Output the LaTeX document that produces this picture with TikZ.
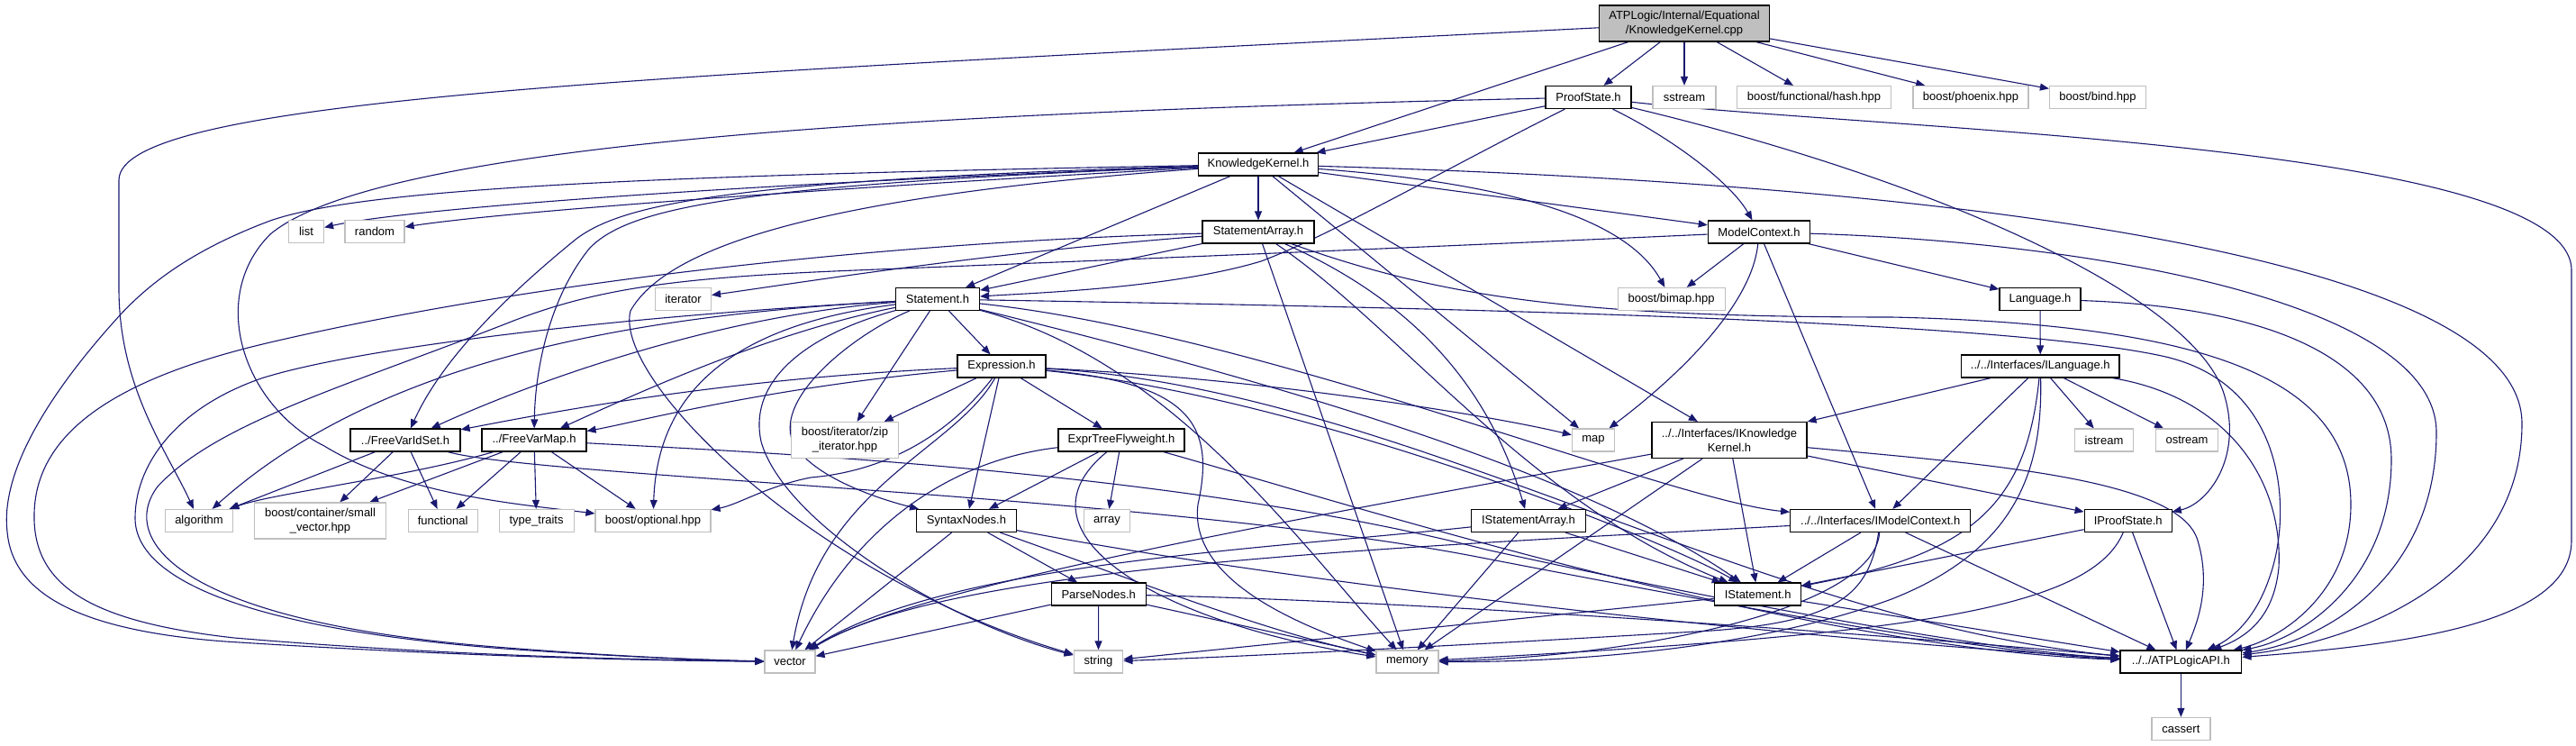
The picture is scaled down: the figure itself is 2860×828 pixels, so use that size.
\documentclass[tikz,border=0pt]{standalone}
\usepackage{fontspec}
\setmainfont{Liberation Sans}
\usetikzlibrary{arrows.meta,backgrounds}
\definecolor{edgec}{HTML}{191970}
\definecolor{extc}{HTML}{BFBFBF}
\definecolor{mainc}{HTML}{BFBFBF}
\begin{document}
\begin{tikzpicture}[x=0.5pt,y=-0.5pt,
 box/.style={rectangle, inner sep=0pt, minimum height=12.5pt, font=\fontsize{6.5}{8}\selectfont, align=center, line width=0.6pt},
 hdr/.style={box, draw=black, fill=white},
 ext/.style={box, draw=extc, fill=white},
 dbl/.style={minimum height=20pt},
 dep/.style={draw=edgec, line width=0.55pt, -{Triangle[length=5pt,width=4pt]}}]
\path[use as bounding box] (0,0) rectangle (2860,828);
% ---------- nodes ----------
\node[box, draw=black, fill=mainc, dbl, minimum width=94.5pt] (M) at (1870,26) {ATPLogic/Internal/Equational\\/KnowledgeKernel.cpp};
\node[hdr, minimum width=47.5pt] (P) at (1763.5,108) {ProofState.h};
\node[ext, minimum width=35pt] (sst) at (1870,108) {sstream};
\node[ext, minimum width=85.5pt] (hash) at (2014,108) {boost/functional/hash.hpp};
\node[ext, minimum width=64pt] (phx) at (2188,108) {boost/phoenix.hpp};
\node[ext, minimum width=53.5pt] (bind) at (2329,108) {boost/bind.hpp};
\node[hdr, minimum width=66.5pt] (KK) at (1397,182.5) {KnowledgeKernel.h};
\node[ext, minimum width=19.5pt] (list) at (340,257) {list};
\node[ext, minimum width=33pt] (rnd) at (416,257) {random};
\node[hdr, minimum width=62pt] (SA) at (1397,257.5) {StatementArray.h};
\node[hdr, minimum width=56.7pt] (MC) at (1953,257.5) {ModelContext.h};
\node[hdr, minimum width=46.5pt] (St) at (1041,332) {Statement.h};
\node[ext, minimum width=31pt] (itr) at (758.5,332) {iterator};
\node[ext, minimum width=59.5pt] (bimap) at (1855.6,332) {boost/bimap.hpp};
\node[hdr, minimum width=45pt] (Lang) at (2265,332) {Language.h};
\node[hdr, minimum width=49pt] (Ex) at (1112,406.5) {Expression.h};
\node[hdr, minimum width=87.7pt] (ILang) at (2265.3,406.5) {../../Interfaces/ILanguage.h};
\node[hdr, minimum width=61pt] (FVS) at (450,488.5) {../FreeVarIdSet.h};
\node[hdr, minimum width=58pt] (FVM) at (593,488.5) {../FreeVarMap.h};
\node[ext, dbl, minimum width=59.2pt] (zip) at (938,488.5) {boost/iterator/zip\\\_iterator.hpp};
\node[hdr, minimum width=70pt] (ETF) at (1245,488.5) {ExprTreeFlyweight.h};
\node[ext, minimum width=23.6pt] (map) at (1769,488.5) {map};
\node[hdr, dbl, minimum width=86pt] (IKK) at (1920,488.5) {../../Interfaces/IKnowledge\\Kernel.h};
\node[ext, minimum width=32.2pt] (istr) at (2336,488.5) {istream};
\node[ext, minimum width=34.4pt] (ostr) at (2428,488.5) {ostream};
\node[ext, minimum width=37.5pt] (alg) at (221,578) {algorithm};
\node[ext, dbl, minimum width=73.2pt] (svec) at (355.6,578) {boost/container/small\\\_vector.hpp};
\node[ext, minimum width=38.5pt] (func) at (491.7,578) {functional};
\node[ext, minimum width=41.5pt] (tt) at (595.6,578) {type\_traits};
\node[ext, minimum width=64pt] (opt) at (725,578) {boost/optional.hpp};
\node[hdr, minimum width=55.4pt] (SN) at (1073,578) {SyntaxNodes.h};
\node[ext, minimum width=25.2pt] (arr) at (1229,578) {array};
\node[hdr, minimum width=63.4pt] (ISA) at (1697,578) {IStatementArray.h};
\node[hdr, minimum width=100pt] (IMC) at (2087.7,578) {../../Interfaces/IModelContext.h};
\node[hdr, minimum width=48.5pt] (IPS) at (2362.7,578) {IProofState.h};
\node[hdr, minimum width=52.4pt] (PN) at (1219.7,659.5) {ParseNodes.h};
\node[hdr, minimum width=48pt] (IS) at (1951.7,659.5) {IStatement.h};
\node[ext, minimum width=28pt] (vec) at (877,734.5) {vector};
\node[ext, minimum width=27.3pt] (str) at (1219.5,734.5) {string};
\node[ext, minimum width=34.5pt] (mem) at (1562.5,734.5) {memory};
\node[hdr, minimum width=67.4pt] (API) at (2421.4,734.5) {../../ATPLogicAPI.h};
\node[ext, minimum width=32.5pt] (cas) at (2421.4,809) {cassert};
% ---------- edges ----------
\begin{pgfonlayer}{background}
\fill[white] (0,0) rectangle (2860,828);
% main file
\draw[dep] (M) -- (P);
\draw[dep] (M) -- (sst);
\draw[dep] (M) -- (hash);
\draw[dep] (M) -- (phx);
\draw[dep] (M) -- (bind);
\draw[dep] (M) -- (KK);
\draw[dep] (M) .. controls (700,85) and (132,110) .. (132,200) -- (132,320) .. controls (132,430) and (185,500) .. (alg);
% ProofState.h
\draw[dep] (P) -- (KK);
\draw[dep] (P) .. controls (1600,190) and (1480,260) .. (1400,290) .. controls (1300,320) and (1150,325) .. (St);
\draw[dep] (P) .. controls (1850,150) and (1920,200) .. (MC);
\draw[dep] (P) .. controls (2150,200) and (2440,330) .. (2470,440) .. controls (2490,510) and (2450,560) .. (IPS);
\draw[dep] (P) .. controls (2100,145) and (2855,160) .. (2855,300) -- (2855,600) .. controls (2855,690) and (2680,715) .. (API);
\draw[dep] (P) .. controls (1000,125) and (420,160) .. (300,260) .. controls (230,330) and (270,450) .. (360,495) .. controls (450,550) and (580,560) .. (opt);
% KnowledgeKernel.h
\draw[dep] (KK) .. controls (800,205) and (450,232) .. (list);
\draw[dep] (KK) .. controls (900,210) and (560,235) .. (rnd);
\draw[dep] (KK) .. controls (700,195) and (400,210) .. (300,245) .. controls (220,275) and (170,310) .. (133,350) .. controls (60,430) and (0,520) .. (8,590) .. controls (14,660) and (90,700) .. (250,712) .. controls (500,728) and (700,733) .. (vec);
\draw[dep] (KK) -- (SA);
\draw[dep] (KK) -- (St);
\draw[dep] (KK) -- (MC);
\draw[dep] (KK) .. controls (1700,205) and (1810,250) .. (bimap);
\draw[dep] (KK) -- (map);
\draw[dep] (KK) -- (IKK);
\draw[dep] (KK) .. controls (800,200) and (690,228) .. (640,265) .. controls (560,330) and (490,400) .. (FVS);
\draw[dep] (KK) .. controls (820,205) and (700,230) .. (655,275) .. controls (610,330) and (594,410) .. (FVM);
\draw[dep] (KK) .. controls (950,215) and (745,265) .. (700,345) .. controls (680,420) and (900,640) .. (str);
\draw[dep] (KK) .. controls (2200,205) and (2800,290) .. (2800,470) .. controls (2800,640) and (2620,712) .. (API);
% StatementArray.h
\draw[dep] (SA) -- (St);
\draw[dep] (SA) .. controls (1100,280) and (900,312) .. (itr);
\draw[dep] (SA) .. controls (1000,268) and (600,310) .. (300,380) .. controls (150,415) and (40,470) .. (38,570) .. controls (36,650) and (100,690) .. (260,708) .. controls (500,728) and (700,732) .. (vec);
\draw[dep] (SA) -- (mem);
\draw[dep] (SA) .. controls (1560,330) and (1650,420) .. (ISA);
\draw[dep] (SA) .. controls (1550,360) and (1700,560) .. (IS);
\draw[dep] (SA) .. controls (1600,330) and (1750,352) .. (2100,352) .. controls (2450,360) and (2610,420) .. (2610,560) .. controls (2610,660) and (2530,710) .. (API);
% ModelContext.h
\draw[dep] (MC) -- (Lang);
\draw[dep] (MC) -- (bimap);
\draw[dep] (MC) .. controls (1945,340) and (1860,420) .. (map);
\draw[dep] (MC) -- (IMC);
\draw[dep] (MC) .. controls (1500,278) and (1150,292) .. (950,300) .. controls (750,308) and (660,320) .. (560,360) .. controls (380,430) and (240,470) .. (175,540) .. controls (130,600) and (200,690) .. (550,718) .. controls (700,730) and (800,733) .. (vec);
\draw[dep] (MC) .. controls (2300,268) and (2705,330) .. (2705,480) .. controls (2705,640) and (2580,712) .. (API);
% Language.h
\draw[dep] (Lang) -- (ILang);
\draw[dep] (Lang) .. controls (2500,340) and (2655,390) .. (2655,510) .. controls (2655,640) and (2560,708) .. (API);
% Statement.h
\draw[dep] (St) -- (Ex);
\draw[dep] (St) .. controls (800,350) and (600,420) .. (FVS);
\draw[dep] (St) .. controls (850,370) and (700,440) .. (FVM);
\draw[dep] (St) .. controls (700,350) and (420,400) .. (alg);
\draw[dep] (St) .. controls (700,350) and (400,385) .. (290,420) .. controls (190,455) and (150,520) .. (150,575) .. controls (150,650) and (300,700) .. (560,720) .. controls (700,730) and (800,733) .. (vec);
\draw[dep] (St) .. controls (900,370) and (830,420) .. (845,490) .. controls (870,580) and (1050,690) .. (str);
\draw[dep] (St) .. controls (820,360) and (730,430) .. (opt);
\draw[dep] (St) -- (zip);
\draw[dep] (St) .. controls (950,370) and (860,440) .. (880,490) .. controls (900,530) and (980,555) .. (SN);
\draw[dep] (St) .. controls (1300,400) and (1440,600) .. (mem);
\draw[dep] (St) .. controls (1400,420) and (1750,520) .. (IS);
\draw[dep] (St) .. controls (1400,370) and (1850,555) .. (IMC);
\draw[dep] (St) .. controls (1500,340) and (2200,352) .. (2400,395) .. controls (2540,425) and (2545,570) .. (2520,640) .. controls (2505,685) and (2480,708) .. (API);
% Expression.h
\draw[dep] (Ex) -- (ETF);
\draw[dep] (Ex) -- (zip);
\draw[dep] (Ex) -- (SN);
\draw[dep] (Ex) .. controls (1060,500) and (910,540) .. (vec);
\draw[dep] (Ex) .. controls (1040,500) and (960,525) .. (900,530) .. controls (850,540) and (820,560) .. (opt);
\draw[dep] (Ex) .. controls (800,420) and (600,460) .. (FVS);
\draw[dep] (Ex) .. controls (850,430) and (700,470) .. (FVM);
\draw[dep] (Ex) .. controls (1400,420) and (1650,460) .. (map);
\draw[dep] (Ex) .. controls (1450,440) and (1850,600) .. (IS);
\draw[dep] (Ex) .. controls (1320,425) and (1350,470) .. (1330,560) .. controls (1320,640) and (1430,690) .. (mem);
\draw[dep] (Ex) .. controls (1550,430) and (1950,690) .. (API);
% ExprTreeFlyweight.h
\draw[dep] (ETF) -- (SN);
\draw[dep] (ETF) -- (arr);
\draw[dep] (ETF) .. controls (1060,510) and (950,580) .. (vec);
\draw[dep] (ETF) .. controls (1120,590) and (1280,690) .. (mem);
\draw[dep] (ETF) .. controls (1500,560) and (2000,720) .. (API);
% SyntaxNodes.h
\draw[dep] (SN) -- (PN);
\draw[dep] (SN) -- (vec);
\draw[dep] (SN) .. controls (1250,640) and (1400,700) .. (mem);
\draw[dep] (SN) .. controls (1450,650) and (2000,710) .. (API);
% ParseNodes.h
\draw[dep] (PN) -- (str);
\draw[dep] (PN) -- (vec);
\draw[dep] (PN) -- (mem);
\draw[dep] (PN) .. controls (1600,668) and (2100,705) .. (API);
% FreeVarIdSet.h
\draw[dep] (FVS) -- (alg);
\draw[dep] (FVS) -- (svec);
\draw[dep] (FVS) -- (func);
\draw[dep] (FVS) .. controls (600,530) and (1300,550) .. (1650,620) .. controls (1900,668) and (2200,725) .. (API);
% FreeVarMap.h
\draw[dep] (FVM) .. controls (450,530) and (300,548) .. (alg);
\draw[dep] (FVM) -- (svec);
\draw[dep] (FVM) -- (func);
\draw[dep] (FVM) -- (tt);
\draw[dep] (FVM) -- (opt);
\draw[dep] (FVM) .. controls (800,500) and (1300,520) .. (1650,610) .. controls (1900,665) and (2200,722) .. (API);
% IKnowledgeKernel.h
\draw[dep] (IKK) -- (ISA);
\draw[dep] (IKK) .. controls (1300,600) and (1000,660) .. (vec);
\draw[dep] (IKK) -- (mem);
\draw[dep] (IKK) -- (IS);
\draw[dep] (IKK) -- (IPS);
\draw[dep] (IKK) .. controls (2200,515) and (2420,530) .. (2440,600) .. controls (2455,650) and (2440,690) .. (API);
% IModelContext.h
\draw[dep] (IMC) -- (IS);
\draw[dep] (IMC) .. controls (1500,610) and (1050,630) .. (vec);
\draw[dep] (IMC) .. controls (2080,680) and (1800,730) .. (mem);
\draw[dep] (IMC) .. controls (2075,660) and (2040,690) .. (1900,700) .. controls (1700,712) and (1400,728) .. (str);
\draw[dep] (IMC) -- (API);
% IProofState.h
\draw[dep] (IPS) -- (IS);
\draw[dep] (IPS) .. controls (2320,680) and (2100,705) .. (mem);
\draw[dep] (IPS) -- (API);
% IStatement.h
\draw[dep] (IS) -- (str);
\draw[dep] (IS) -- (API);
% IStatementArray.h
\draw[dep] (ISA) .. controls (1400,610) and (1050,625) .. (vec);
\draw[dep] (ISA) -- (mem);
\draw[dep] (ISA) -- (IS);
% ILanguage.h
\draw[dep] (ILang) -- (IKK);
\draw[dep] (ILang) -- (IMC);
\draw[dep] (ILang) .. controls (2250,560) and (2190,615) .. (IS);
\draw[dep] (ILang) .. controls (2268,520) and (2240,610) .. (2100,665) .. controls (1950,720) and (1750,735) .. (mem);
\draw[dep] (ILang) -- (istr);
\draw[dep] (ILang) -- (ostr);
\draw[dep] (ILang) .. controls (2470,440) and (2535,530) .. (2530,630) .. controls (2525,680) and (2500,705) .. (API);
% ATPLogicAPI.h
\draw[dep] (API) -- (cas);
\end{pgfonlayer}
\end{tikzpicture}
\end{document}
